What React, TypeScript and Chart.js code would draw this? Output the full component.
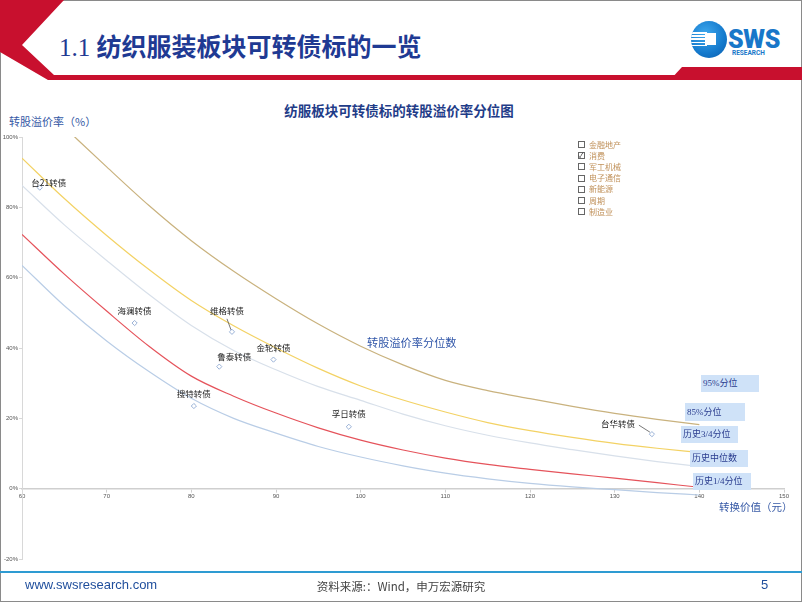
import React, { useEffect, useRef } from 'react';
import { Chart, registerables } from 'chart.js';
Chart.register(...registerables);

// ---- data ----
const conversionValues = [60, 65, 70, 75, 80, 85, 90, 95, 100, 105, 110, 115, 120, 125, 130, 135, 140];
const pct95 = [null, 102.8, 91.5, 80.5, 70.5, 61.8, 54, 46.8, 40.5, 35.2, 30.8, 27.9, 25.6, 23.4, 21.4, 19.7, 18.2];
const pct85 = [94, 82.5, 72, 62.3, 53.5, 46.3, 40, 34.2, 29.2, 25.2, 21.8, 18.8, 16.5, 14.6, 12.9, 11.5, 10.3];
const pct75 = [86.2, 75, 64.9, 55.2, 46.4, 39.3, 33.8, 29, 25.1, 21.2, 17.9, 15.2, 13.0, 11.1, 9.3, 7.7, 6.3];
const pct50 = [72.3, 61, 50.5, 40.5, 32, 26.3, 21.5, 17.3, 13.8, 11, 8.7, 6.9, 5.5, 4.2, 3.0, 1.7, 0.4];
const pct25 = [63.5, 52, 42, 33.3, 25.7, 20, 15.8, 12, 9.0, 6.5, 4.4, 2.8, 1.5, 0.5, -0.3, -1.1, -1.8];

const bondNames = ['台21转债', '海澜转债', '维格转债', '鲁泰转债', '搜特转债', '金轮转债', '孚日转债', '台华转债'];
const bondConversion = [62.1, 73.3, 84.8, 83.3, 80.3, 89.7, 98.6, 134.4];
const bondPremium = [85.6, 47.1, 44.6, 34.7, 23.5, 36.7, 17.6, 15.5];

const percentileLabels = ['95%分位', '85%分位', '历史3/4分位', '历史中位数', '历史1/4分位'];
const sectors = ['金融地产', '消费', '军工机械', '电子通信', '新能源', '周期', '制造业'];
const checkedSector = '消费';

const xTicks = { min: 60, max: 150, step: 10 };
const yTicks = { min: -20, max: 100, step: 20 };

// ---- styling (not data) ----
const CJK = '"Noto Sans CJK SC", "Noto Sans", sans-serif';
const labelOffsets: Record<string, [number, number]> = {
  '台21转债': [9, -5],
  '海澜转债': [0, -12],
  '维格转债': [-5, -21],
  '鲁泰转债': [15, -10],
  '搜特转债': [0, -12],
  '金轮转债': [0, -12],
  '孚日转债': [0, -13],
  '台华转债': [-34, -10],
};
const leaderLines: Record<string, [number, number, number, number]> = {
  '维格转债': [-5, -13, -1, -2],
  '台华转债': [-13, -9, -2, -2],
};
const percentileBoxes = [
  { left: 701, top: 375, width: 58, height: 17 },
  { left: 685, top: 403, width: 60, height: 18 },
  { left: 681, top: 426, width: 57, height: 17 },
  { left: 690, top: 450, width: 58, height: 17 },
  { left: 693, top: 473, width: 58, height: 17 },
];

function toPoints(ys: (number | null)[]) {
  const pts: { x: number; y: number }[] = [];
  ys.forEach((v, i) => {
    if (v !== null) pts.push({ x: conversionValues[i], y: v });
  });
  return pts;
}

const labelPlugin = {
  id: 'bondLabels',
  afterDatasetsDraw(chart: any) {
    const { ctx, scales } = chart;
    const x = scales.x, y = scales.y;
    ctx.save();
    ctx.font = `8.5px ${CJK}`;
    ctx.fillStyle = '#222';
    ctx.textAlign = 'center';
    ctx.textBaseline = 'middle';
    bondNames.forEach((name, i) => {
      const px = x.getPixelForValue(bondConversion[i]);
      const py = y.getPixelForValue(bondPremium[i]);
      const off = labelOffsets[name] || [0, -12];
      ctx.fillText(name, px + off[0], py + off[1]);
      const ll = leaderLines[name];
      if (ll) {
        ctx.strokeStyle = '#555';
        ctx.lineWidth = 0.8;
        ctx.beginPath();
        ctx.moveTo(px + ll[0], py + ll[1]);
        ctx.lineTo(px + ll[2], py + ll[3]);
        ctx.stroke();
      }
    });
    ctx.restore();
  },
};

function ChartCanvas() {
  const ref = useRef<HTMLCanvasElement | null>(null);
  useEffect(() => {
    if (!ref.current) return;
    const lineDs = (label: string, ys: (number | null)[], color: string, width = 1.2) => ({
      type: 'line' as const,
      label,
      data: toPoints(ys),
      borderColor: color,
      backgroundColor: color,
      borderWidth: width,
      pointRadius: 0,
      fill: false,
      cubicInterpolationMode: 'monotone' as const,
    });
    const chart = new Chart(ref.current, {
      type: 'line',
      data: {
        datasets: [
          {
            type: 'scatter' as const,
            label: '可转债',
            data: bondConversion.map((v, i) => ({ x: v, y: bondPremium[i] })),
            pointStyle: 'rectRot',
            pointRadius: 2.6,
            borderWidth: 0.9,
            borderColor: '#8FA9D3',
            backgroundColor: '#ffffff',
            showLine: false,
            order: 0,
          } as any,
          { ...lineDs(percentileLabels[0], pct95, '#C9B27E'), order: 1 },
          { ...lineDs(percentileLabels[1], pct85, '#F3D264'), order: 2 },
          { ...lineDs(percentileLabels[2], pct75, '#D8E0EA'), order: 3 },
          { ...lineDs(percentileLabels[3], pct50, '#E5535B'), order: 4 },
          { ...lineDs(percentileLabels[4], pct25, '#B9CDE6'), order: 5 },
        ],
      },
      options: {
        animation: false,
        responsive: false,
        layout: { padding: { left: 0, top: 137, right: 18, bottom: 43 } },
        plugins: { legend: { display: false }, tooltip: { enabled: false }, title: { display: false } },
        scales: {
          x: {
            type: 'linear',
            position: { y: 0 } as any,
            min: xTicks.min,
            max: xTicks.max,
            ticks: { stepSize: xTicks.step, font: { size: 6, family: 'Liberation Sans' }, color: '#555', padding: 1, maxRotation: 0 },
            grid: { drawOnChartArea: false, tickLength: 3, color: '#cfcfcf' },
            border: { color: '#cfcfcf', width: 1.6 },
          },
          y: {
            type: 'linear',
            position: 'left',
            min: yTicks.min,
            max: yTicks.max,
            afterFit: (s: any) => { s.width = 22; },
            ticks: {
              stepSize: yTicks.step,
              font: { size: 6, family: 'Liberation Sans' },
              color: '#555',
              padding: 1,
              callback: (v: any) => `${v}%`,
            },
            grid: { drawOnChartArea: false, tickLength: 3, color: '#d8d8d8' },
            border: { color: '#d8d8d8', width: 1 },
          },
        },
      },
      plugins: [labelPlugin],
    } as any);
    return () => chart.destroy();
  }, []);
  return (
    <canvas
      ref={ref}
      width={802}
      height={602}
      style={{ position: 'absolute', left: 0, top: 0, width: 802, height: 602 }}
    />
  );
}

function Logo() {
  return (
    <div style={{ position: 'absolute', left: 690, top: 21, width: 110, height: 40 }}>
      <div
        style={{
          position: 'absolute', left: 1, top: 0, width: 36, height: 37, borderRadius: '50%',
          background: 'radial-gradient(circle at 40% 35%, #3FA9EE 0%, #1479CC 60%, #0B5BAA 100%)', overflow: 'hidden',
        }}
      >
        {[0, 1, 2, 3, 4].map((i) => (
          <div key={i} style={{ position: 'absolute', left: 0, top: 11 + i * 3.2, width: 16, height: 1.5, background: '#fff' }} />
        ))}
        <div style={{ position: 'absolute', left: 14, top: 12, width: 11, height: 12, background: '#fff' }} />
      </div>
      <div style={{ position: 'absolute', left: 38, top: 6, fontFamily: 'Roboto, "Liberation Sans", sans-serif', fontWeight: 900, fontSize: 25, lineHeight: '25px', color: '#1877C9', letterSpacing: -0.3 }}>
        SWS
      </div>
      <div style={{ position: 'absolute', left: 42, top: 29, fontFamily: 'Roboto, "Liberation Sans", sans-serif', fontWeight: 700, fontSize: 6.5, lineHeight: '7px', color: '#1877C9' }}>
        RESEARCH
      </div>
    </div>
  );
}

export default function App() {
  return (
    <div style={{ position: 'fixed', left: 0, top: 0, width: 802, height: 602, background: '#fff', overflow: 'hidden', fontFamily: CJK }}>
      {/* slide frame */}
      <div style={{ position: 'absolute', left: 0, top: 0, width: 800, height: 600, border: '1px solid #8a8a8a' }} />
      <svg width={802} height={602} style={{ position: 'absolute', left: 0, top: 0 }}>
        <polygon points="0,0 64,0 22,45 54,75 802,75 802,80 48,80 0,52" fill="#C8102E" />
        <polygon points="670,80 682,67 802,67 802,80" fill="#C8102E" />
        <rect x={0} y={571} width={802} height={2} fill="#2E9BD2" />
      </svg>
      {/* header title */}
      <div style={{ position: 'absolute', left: 59, top: 30, fontSize: 25, lineHeight: '31px', color: '#1F3A93', fontWeight: 700, whiteSpace: 'nowrap' }}>
        <span style={{ fontFamily: '"Liberation Serif", serif', fontWeight: 400 }}>1.1 </span>
        <span>纺织服装板块可转债标的一览</span>
      </div>
      <Logo />
      {/* chart title */}
      <div style={{ position: 'absolute', left: 0, width: 798, top: 101, textAlign: 'center', fontSize: 13.5, lineHeight: '18px', fontWeight: 700, color: '#1F3C88' }}>
        纺服板块可转债标的转股溢价率分位图
      </div>
      <div style={{ position: 'absolute', left: 9, top: 114, fontSize: 11, lineHeight: '14px', color: '#3558A5', whiteSpace: 'nowrap' }}>
        转股溢价率（%）
      </div>
      <ChartCanvas />
      <div style={{ position: 'absolute', left: 719, top: 500, fontSize: 10.5, lineHeight: '14px', color: '#3558A5', whiteSpace: 'nowrap' }}>
        转换价值（元）
      </div>
      <div style={{ position: 'absolute', left: 367, top: 335, fontSize: 11.2, lineHeight: '14px', color: '#2F55A8', whiteSpace: 'nowrap' }}>
        转股溢价率分位数
      </div>
      {/* percentile boxes */}
      {percentileLabels.map((t, i) => {
        const b = percentileBoxes[i];
        return (
          <div
            key={t}
            style={{
              position: 'absolute', left: b.left, top: b.top, width: b.width, height: b.height, background: '#CFE2F8',
              fontFamily: '"Liberation Serif", "Noto Sans CJK SC", serif', fontSize: 9, lineHeight: `${b.height}px`,
              color: '#2A3C8E', paddingLeft: 2, boxSizing: 'border-box', whiteSpace: 'nowrap',
            }}
          >
            {t}
          </div>
        );
      })}
      {/* sector checklist */}
      <div style={{ position: 'absolute', left: 578, top: 139 }}>
        {sectors.map((s) => (
          <div key={s} style={{ height: 11.2, display: 'flex', alignItems: 'center', whiteSpace: 'nowrap' }}>
            <div style={{ width: 5, height: 5, border: '1px solid #666', position: 'relative', background: '#fff' }}>
              {s === checkedSector && (
                <span style={{ position: 'absolute', left: -0.5, top: -3.5, fontSize: 7, lineHeight: '10px', color: '#333' }}>✓</span>
              )}
            </div>
            <span style={{ marginLeft: 4, fontSize: 8, lineHeight: '10px', color: '#C0915A' }}>{s}</span>
          </div>
        ))}
      </div>
      {/* footer */}
      <div style={{ position: 'absolute', left: 25, top: 577, fontFamily: '"Liberation Sans", Arial, sans-serif', fontSize: 13, lineHeight: '16px', color: '#1F4E9C' }}>
        www.swsresearch.com
      </div>
      <div style={{ position: 'absolute', left: 0, width: 802, top: 578, textAlign: 'center', fontSize: 11.5, lineHeight: '16px', color: '#444' }}>
        资料来源:：Wind，申万宏源研究
      </div>
      <div style={{ position: 'absolute', left: 761, top: 577, fontFamily: '"Liberation Sans", Arial, sans-serif', fontSize: 13, lineHeight: '16px', color: '#1F4E9C' }}>
        5
      </div>
    </div>
  );
}
